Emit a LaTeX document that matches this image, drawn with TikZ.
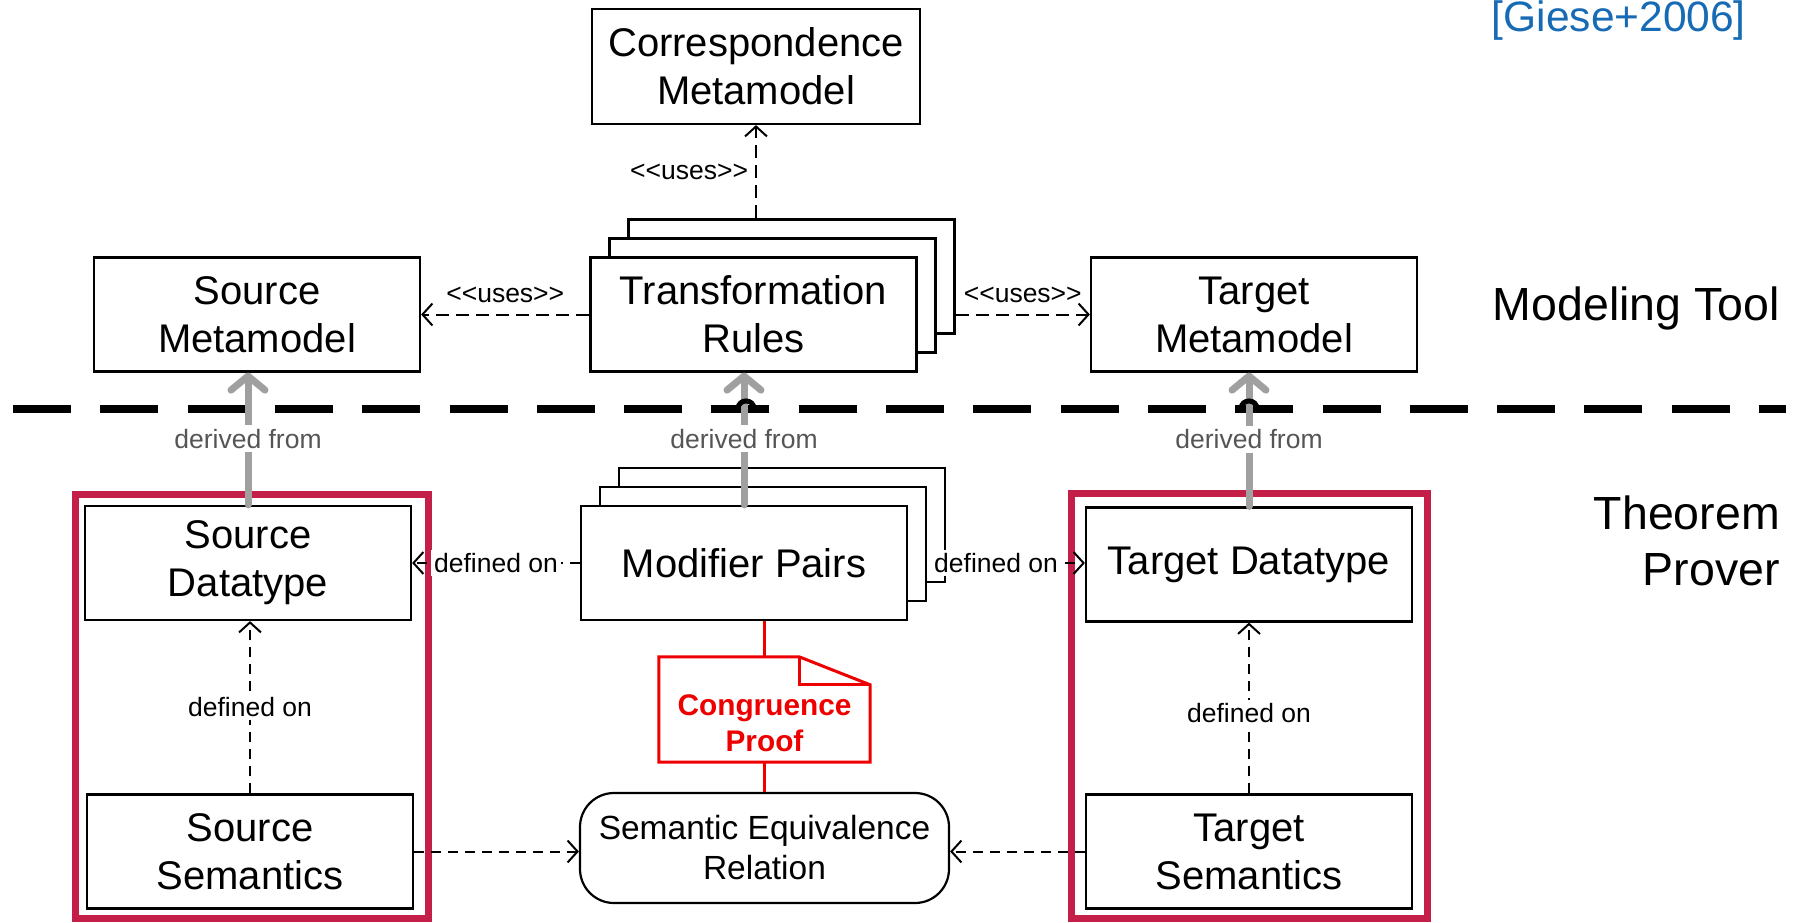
\documentclass[tikz,border=0pt]{standalone}
\usepackage{fontspec}
\setmainfont{Liberation Sans}[Ligatures=TeXOff]
\usetikzlibrary{arrows.meta,calc}
\definecolor{framered}{RGB}{196,31,72}
\definecolor{notered}{RGB}{238,0,0}
\definecolor{citeblue}{RGB}{23,107,181}
\definecolor{arrowgray}{RGB}{160,160,160}
\definecolor{labelgray}{RGB}{85,85,85}
\begin{document}
\begin{tikzpicture}[x=1pt,y=-1pt,
  boxbase/.style={draw=black, line width=2.2pt, fill=white, minimum width=326pt, minimum height=114pt, inner sep=0pt},
  box/.style={boxbase, align=center, font=\fontsize{40}{48}\selectfont},
  frame/.style={draw=framered, line width=7pt, inner sep=0pt},
  dep/.style={draw=black, line width=2pt, dash pattern=on 10pt off 7pt, -{Straight Barb[length=10pt,width=22pt]}},
  usesdep/.style={dep, dash pattern=on 13pt off 7pt},
  deflabel/.style={fill=white, inner sep=3pt, font=\fontsize{26.5}{30}\selectfont},
  useslabel/.style={inner sep=0pt, font=\fontsize{26.5}{30}\selectfont},
  derived/.style={draw=arrowgray, line width=7pt, line cap=round, -{Straight Barb[length=14pt,width=34pt,round]}},
  derlabel/.style={fill=white, text=labelgray, inner sep=4pt, font=\fontsize{26.5}{30}\selectfont},
  side/.style={inner sep=0pt, align=right, font=\fontsize{46.5}{56}\selectfont},
  notelink/.style={draw=notered, line width=3pt},
]
\useasboundingbox (0,0) rectangle (1800,922);
\fill[white] (0,0) rectangle (1800,922);

% separator
\draw[line width=8pt, dash pattern=on 58pt off 29.3pt] (13,409) -- (1786,409);

% red frames
\node[frame, minimum width=353pt, minimum height=424pt] (srcframe) at (251.5,706) {};
\node[frame, minimum width=356pt, minimum height=425pt] (tgtframe) at (1249,705.5) {};

% boxes
\node[box, minimum width=328pt, minimum height=115pt] (corr) at (756,66.5) {Correspondence\\Metamodel};
\node[boxbase] (tr3) at (791.5,276.5) {};
\node[boxbase] (tr2) at (772.5,295.5) {};
\node[box] (tr) at (753.5,314.5) {Transformation\\Rules};
\node[box] (sm) at (257,314.5) {Source\\Metamodel};
\node[box] (tm) at (1254,314.5) {Target\\Metamodel};
\node[boxbase] (mp3) at (782,525) {};
\node[boxbase] (mp2) at (763,544) {};
\node[box] (mp) at (744,563) {Modifier Pairs};
\node[box] (sd) at (248,563) {Source\\Datatype};
\node[box] (ss) at (250,851.5) {Source\\Semantics};
\node[box] (td) at (1249,564.5) {Target Datatype};
\node[box] (ts) at (1249,851.5) {Target\\Semantics};
\node[box, rounded corners=34pt, minimum width=369pt, minimum height=110pt, font=\fontsize{33.5}{40}\selectfont] (ser) at (764.5,848) {Semantic Equivalence\\Relation};

% note
\node[minimum width=211pt, minimum height=105pt, inner sep=0pt] (note) at (764.5,709.5) {};
\draw[notered, line width=3pt] (note.north west) -- ($(note.north east)+(-71,0)$) -- ($(note.north east)+(0,28)$) -- (note.south east) -- (note.south west) -- cycle;
\draw[notered, line width=3pt] ($(note.north east)+(-71,0)$) -- ++(0,28) -- ($(note.north east)+(0,28)$);
\node[text=notered, font=\bfseries\fontsize{29.8}{35.6}\selectfont, align=center, inner sep=0pt] (notetext) at (764.5,723) {Congruence\\Proof};
\draw[notelink] (note.north |- mp.south) -- (note.north);
\draw[notelink] (note.south) -- (note.south |- ser.north);

% uses
\draw[usesdep] (tr.west) -- (sm.east) node[midway, useslabel, yshift=19.5pt] {<<uses>>};
\draw[usesdep] (tr3.east |- tr.west) -- (tm.west) node[midway, useslabel, yshift=19.5pt] {<<uses>>};
\draw[usesdep] (corr.south |- tr3.north) -- (corr.south) node[midway, useslabel, left=7pt] {<<uses>>};

% defined on
\draw[dep] (mp.west) -- (sd.east) node[midway, deflabel] {defined on};
\draw[dep] (mp3.east |- mp.east) -- (td.west |- mp.east) node[pos=0.36, deflabel] {defined on};
\draw[dep] (ss.north) -- (ss.north |- sd.south) node[midway, deflabel] {defined on};
\draw[dep] (ts.north) -- (td.south) node[pos=0.47, deflabel] {defined on};
\draw[dep] (ss.east) -- (ss.east -| ser.west);
\draw[dep] (ts.west) -- (ts.west -| ser.east);

% derived from
\draw[derived] (sd.north) -- (sd.north |- sm.south) node[midway, derlabel] {derived from};
\draw[derived] (mp.north) -- (mp.north |- tr.south) node[midway, derlabel] {derived from};
\draw[derived] (td.north) -- (td.north |- tm.south) node[midway, derlabel] {derived from};

% hops on separator
\coordinate (hopm) at (746,409);
\coordinate (hopr) at (1249,409);
\draw[line width=5pt] ([xshift=-8pt]hopm) .. controls +(0,-10.7) and +(0,-10.7) .. ([xshift=8pt]hopm);
\draw[line width=5pt] ([xshift=-8pt]hopr) .. controls +(0,-10.7) and +(0,-10.7) .. ([xshift=8pt]hopr);

% side labels
\node[side, anchor=east] (mt) at (1780,308) {Modeling Tool};
\node[side, anchor=east] (tp) at (1780,541) {Theorem\\Prover};
\node[anchor=base east, inner sep=0pt, text=citeblue, font=\fontsize{42.5}{50}\selectfont] (cite) at (1746,31) {[Giese+2006]};
\end{tikzpicture}
\end{document}
